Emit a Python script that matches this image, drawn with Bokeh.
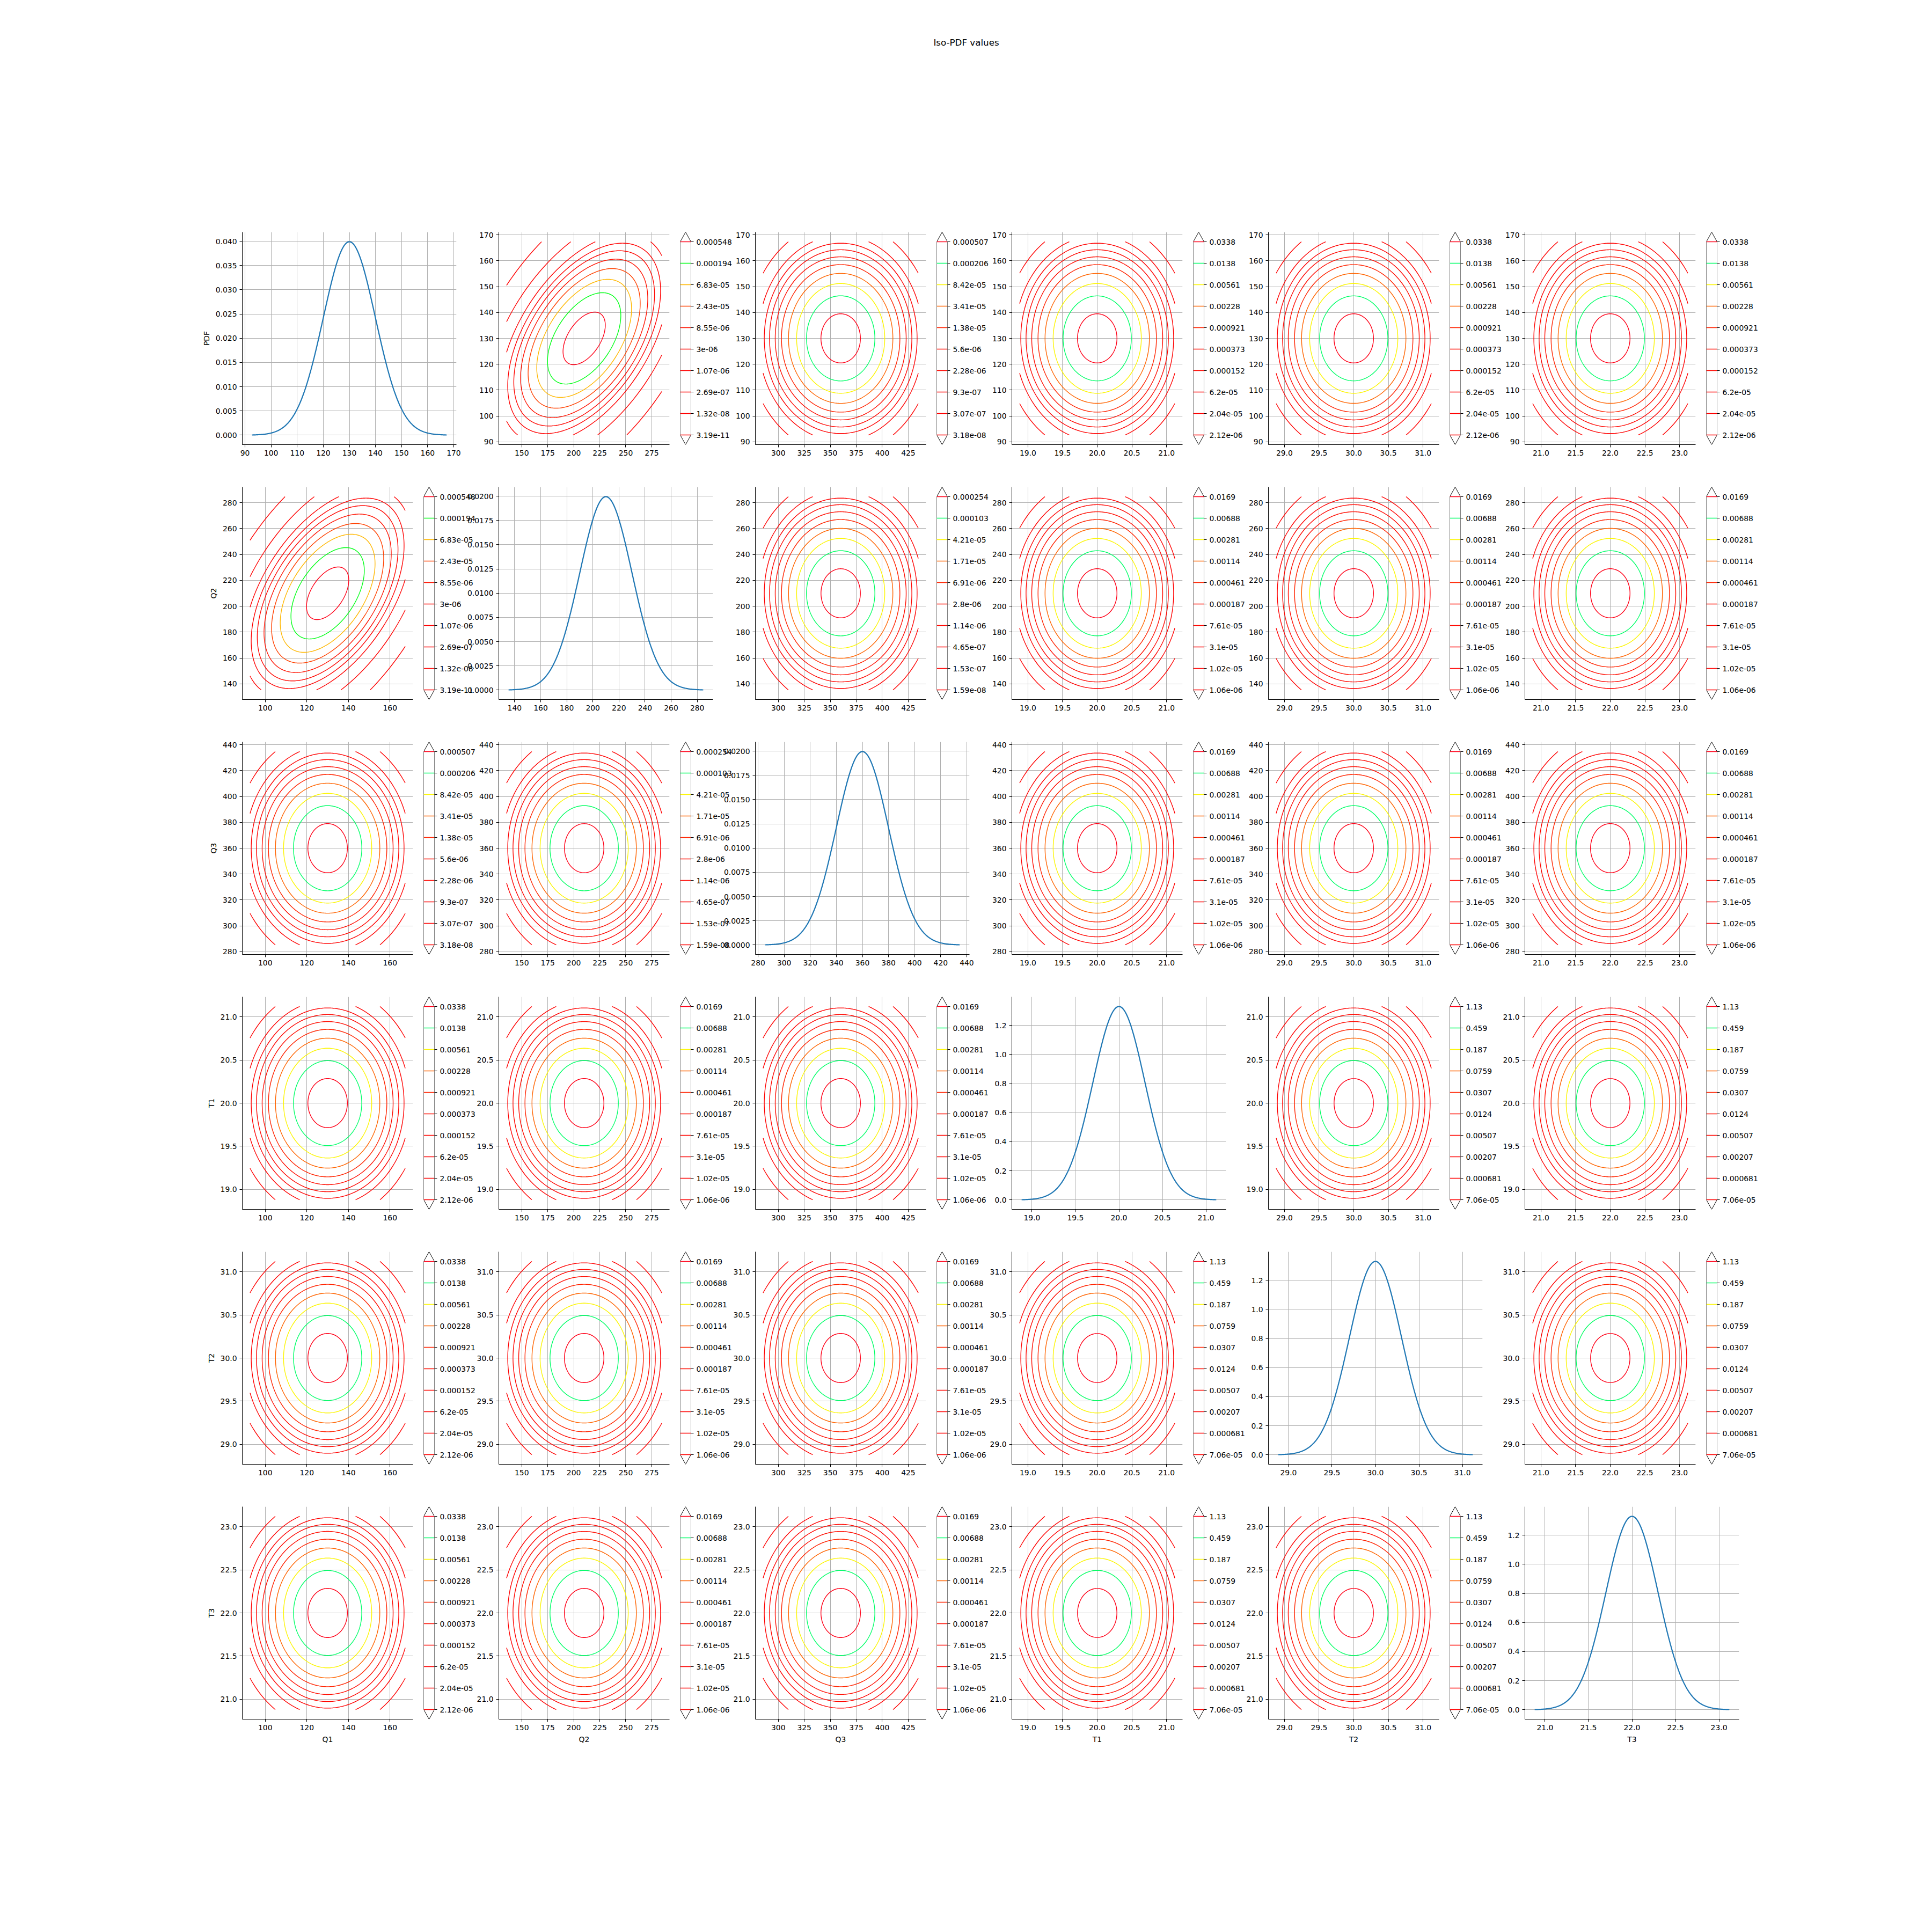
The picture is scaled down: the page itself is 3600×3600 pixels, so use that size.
import numpy as np
from bokeh.plotting import figure
from bokeh.models import Range1d, FixedTicker, LinearAxis, PrintfTickFormatter, Label
from bokeh.layouts import row, column
from bokeh.embed import file_html
from bokeh.resources import INLINE

# ---------------- data ----------------
TITLE = "Iso-PDF values"
names = ["Q1", "Q2", "Q3", "T1", "T2", "T3"]
means = [130.0, 210.0, 360.0, 20.0, 30.0, 22.0]
sigmas = [10.0, 20.0, 20.0, 0.3, 0.3, 0.3]
corr_Q1_Q2 = 0.5

levels_Q1_Q2 = [3.19e-11, 1.32e-08, 2.69e-07, 1.07e-06, 3e-06, 8.55e-06, 2.43e-05, 6.83e-05, 0.000194, 0.000548]
levels_Q1_Q3 = [3.18e-08, 3.07e-07, 9.3e-07, 2.28e-06, 5.6e-06, 1.38e-05, 3.41e-05, 8.42e-05, 0.000206, 0.000507]
levels_Q1_T = [2.12e-06, 2.04e-05, 6.2e-05, 0.000152, 0.000373, 0.000921, 0.00228, 0.00561, 0.0138, 0.0338]
levels_Q2_Q3 = [1.59e-08, 1.53e-07, 4.65e-07, 1.14e-06, 2.8e-06, 6.91e-06, 1.71e-05, 4.21e-05, 0.000103, 0.000254]
levels_Q23_T = [1.06e-06, 1.02e-05, 3.1e-05, 7.61e-05, 0.000187, 0.000461, 0.00114, 0.00281, 0.00688, 0.0169]
levels_T_T = [7.06e-05, 0.000681, 0.00207, 0.00507, 0.0124, 0.0307, 0.0759, 0.187, 0.459, 1.13]

contour_x_ticks = {
    "Q1": [100, 120, 140, 160],
    "Q2": [150, 175, 200, 225, 250, 275],
    "Q3": [300, 325, 350, 375, 400, 425],
    "T1": [19.0, 19.5, 20.0, 20.5, 21.0],
    "T2": [29.0, 29.5, 30.0, 30.5, 31.0],
    "T3": [21.0, 21.5, 22.0, 22.5, 23.0],
}
row_y_ticks = {
    "Q1": [90, 100, 110, 120, 130, 140, 150, 160, 170],
    "Q2": [140, 160, 180, 200, 220, 240, 260, 280],
    "Q3": [280, 300, 320, 340, 360, 380, 400, 420, 440],
    "T1": [19.0, 19.5, 20.0, 20.5, 21.0],
    "T2": [29.0, 29.5, 30.0, 30.5, 31.0],
    "T3": [21.0, 21.5, 22.0, 22.5, 23.0],
}
pdf_x_ticks = {
    "Q1": [90, 100, 110, 120, 130, 140, 150, 160, 170],
    "Q2": [140, 160, 180, 200, 220, 240, 260, 280],
    "Q3": [280, 300, 320, 340, 360, 380, 400, 420, 440],
    "T1": [19.0, 19.5, 20.0, 20.5, 21.0],
    "T2": [29.0, 29.5, 30.0, 30.5, 31.0],
    "T3": [21.0, 21.5, 22.0, 22.5, 23.0],
}
pdf_y_ticks = {
    "Q1": [0.000, 0.005, 0.010, 0.015, 0.020, 0.025, 0.030, 0.035, 0.040],
    "Q2": [0.0, 0.0025, 0.0050, 0.0075, 0.0100, 0.0125, 0.0150, 0.0175, 0.0200],
    "Q3": [0.0, 0.0025, 0.0050, 0.0075, 0.0100, 0.0125, 0.0150, 0.0175, 0.0200],
    "T1": [0.0, 0.2, 0.4, 0.6, 0.8, 1.0, 1.2],
    "T2": [0.0, 0.2, 0.4, 0.6, 0.8, 1.0, 1.2],
    "T3": [0.0, 0.2, 0.4, 0.6, 0.8, 1.0, 1.2],
}
value_fmt = {"Q1": "%d", "Q2": "%d", "Q3": "%d", "T1": "%.1f", "T2": "%.1f", "T3": "%.1f"}
pdf_fmt = {"Q1": "%.3f", "Q2": "%.4f", "Q3": "%.4f", "T1": "%.1f", "T2": "%.1f", "T3": "%.1f"}


def pair_levels(a, b):
    s = {a, b}
    if s == {"Q1", "Q2"}:
        return levels_Q1_Q2
    if s == {"Q1", "Q3"}:
        return levels_Q1_Q3
    if s == {"Q2", "Q3"}:
        return levels_Q2_Q3
    qs = [n for n in s if n.startswith("Q")]
    if len(qs) == 2:
        return levels_Q2_Q3
    if len(qs) == 1:
        return levels_Q1_T if qs[0] == "Q1" else levels_Q23_T
    return levels_T_T


def pair_corr(a, b):
    return corr_Q1_Q2 if {a, b} == {"Q1", "Q2"} else 0.0


# ---------------- styles / geometry ----------------
FONT = "DejaVu Sans"
TICK_FS = "13.9px"
GRID_SIG = 3.731
NGRID = 161
ROW_TOP0 = 432
ROW_PITCH = 475
FRAME_H = 396
COL_LEFT0 = 451
COL_PITCH = 478
CONTOUR_W = 318
PDF_W = 399
CBAR_GAP = 20
CBAR_W = 20
CBAR_LAB = 90
BORDER_L = 110
BORDER_T = 20
BORDER_B = 59
PDF_RB = 25

HSV_R = [(0.0, 1.0), (0.158730, 1.0), (0.174603, 0.96875), (0.333333, 0.03125), (0.349206, 0.0),
         (0.666667, 0.0), (0.682540, 0.0), (0.841270, 0.03125), (0.857143, 1.0), (1.0, 1.0)]
HSV_G = [(0.0, 0.0), (0.158730, 0.9375), (0.174603, 1.0), (0.507937, 1.0), (0.666667, 0.0625),
         (0.682540, 0.0), (1.0, 0.0)]
HSV_B = [(0.0, 0.0), (0.333333, 0.0), (0.349206, 0.0625), (0.507937, 1.0), (0.841270, 1.0),
         (0.857143, 0.9375), (1.0, 0.09375)]


def hsv_hex(t):
    idx = min(max(int(t * 256), 0), 255)
    x = idx / 255.0
    comps = []
    for seg in (HSV_R, HSV_G, HSV_B):
        xs, vs = zip(*seg)
        comps.append(int(round(float(np.interp(x, xs, vs)) * 255)))
    return "#%02x%02x%02x" % tuple(comps)


def level_colors(levels):
    lo, hi = min(levels), max(levels)
    return [hsv_hex((v - lo) / (hi - lo)) for v in levels]


def style_axis(ax):
    ax.axis_line_color = "black"
    ax.axis_line_width = 1
    ax.major_tick_line_color = "black"
    ax.major_tick_line_width = 1
    ax.major_tick_out = 5
    ax.major_tick_in = 0
    ax.minor_tick_line_color = None
    ax.major_label_text_font = FONT
    ax.major_label_text_font_size = TICK_FS
    ax.major_label_text_color = "black"
    ax.major_label_standoff = 5
    ax.axis_label_text_font = FONT
    ax.axis_label_text_font_size = TICK_FS
    ax.axis_label_text_font_style = "normal"
    ax.axis_label_text_color = "black"
    ax.axis_label_standoff = 6


def base_fig(width, height, xr, yr, rb, bb):
    p = figure(width=width, height=height, x_range=Range1d(*xr), y_range=Range1d(*yr),
               output_backend="svg", toolbar_location=None, tools="")
    p.min_border_left = BORDER_L
    p.min_border_right = rb
    p.min_border_top = BORDER_T
    p.min_border_bottom = bb
    p.border_fill_color = None
    p.background_fill_color = "white"
    p.outline_line_color = None
    for ax in p.xaxis + p.yaxis:
        style_axis(ax)
    p.grid.grid_line_color = "#b0b0b0"
    p.grid.grid_line_width = 1
    return p


def var_range(k):
    lo = means[k] - GRID_SIG * sigmas[k]
    hi = means[k] + GRID_SIG * sigmas[k]
    return lo, hi


def padded(lo, hi):
    pad = 0.05 * (hi - lo)
    return lo - pad, hi + pad


def make_pdf(k, H, bb):
    name = names[k]
    lo, hi = var_range(k)
    xs = np.linspace(lo, hi, 400)
    ys = np.exp(-0.5 * ((xs - means[k]) / sigmas[k]) ** 2) / (sigmas[k] * np.sqrt(2 * np.pi))
    p = base_fig(BORDER_L + PDF_W + PDF_RB, H, padded(lo, hi), padded(ys.min(), ys.max()), PDF_RB, bb)
    p.xaxis.ticker = FixedTicker(ticks=pdf_x_ticks[name])
    p.xaxis.formatter = PrintfTickFormatter(format=value_fmt[name])
    p.yaxis.ticker = FixedTicker(ticks=pdf_y_ticks[name])
    p.yaxis.formatter = PrintfTickFormatter(format=pdf_fmt[name])
    p.line(xs, ys, line_color="#1f77b4", line_width=2.2)
    return p


def make_contour(i, j, H, bb):
    xn, yn = names[j], names[i]
    lox, hix = var_range(j)
    loy, hiy = var_range(i)
    p = base_fig(BORDER_L + CONTOUR_W + CBAR_GAP, H, padded(lox, hix), padded(loy, hiy), CBAR_GAP, bb)
    p.xaxis.ticker = FixedTicker(ticks=contour_x_ticks[xn])
    p.xaxis.formatter = PrintfTickFormatter(format=value_fmt[xn])
    p.yaxis.ticker = FixedTicker(ticks=row_y_ticks[yn])
    p.yaxis.formatter = PrintfTickFormatter(format=value_fmt[yn])
    xg = np.linspace(lox, hix, NGRID)
    yg = np.linspace(loy, hiy, NGRID)
    X, Y = np.meshgrid(xg, yg)
    u = (X - means[j]) / sigmas[j]
    v = (Y - means[i]) / sigmas[i]
    rho = pair_corr(xn, yn)
    Z = np.exp(-(u * u - 2 * rho * u * v + v * v) / (2 * (1 - rho ** 2))) / (
        2 * np.pi * sigmas[i] * sigmas[j] * np.sqrt(1 - rho ** 2))
    levels = pair_levels(xn, yn)
    p.contour(xg, yg, Z, levels, line_color=level_colors(levels), line_width=1.4)
    return p, levels


def make_cbar(levels, H, bb):
    n = len(levels)
    ext = 0.05 * (n - 1)
    cb = figure(width=CBAR_W + CBAR_LAB, height=H, x_range=Range1d(0, 1),
                y_range=Range1d(-ext, n - 1 + ext), x_axis_type=None, y_axis_type=None,
                output_backend="svg", toolbar_location=None, tools="")
    cb.min_border_left = 0
    cb.min_border_right = CBAR_LAB
    cb.min_border_top = BORDER_T
    cb.min_border_bottom = bb
    cb.border_fill_color = None
    cb.background_fill_color = None
    cb.outline_line_color = None
    idx = list(range(n))
    cb.patch(x=[0, 0.5, 1, 1, 0.5, 0], y=[0, -ext, 0, n - 1, n - 1 + ext, n - 1],
             fill_color="white", line_color="black", line_width=1)
    cb.segment(x0=[0] * n, y0=idx, x1=[1] * n, y1=idx, line_color=level_colors(levels), line_width=1.6)
    ax = LinearAxis(ticker=FixedTicker(ticks=idx),
                    major_label_overrides={k: "%.3g" % levels[k] for k in idx})
    style_axis(ax)
    ax.axis_line_color = None
    cb.add_layout(ax, "right")
    return cb


# ---------------- assemble ----------------
header_h = ROW_TOP0 - BORDER_T
header = figure(width=3600, height=header_h, x_range=Range1d(0, 3600), y_range=Range1d(0, header_h),
                x_axis_type=None, y_axis_type=None, output_backend="svg", toolbar_location=None, tools="")
header.min_border = 0
header.outline_line_color = None
header.border_fill_color = None
header.background_fill_color = None
header.add_layout(Label(x=1800, y=header_h - 78, text=TITLE, text_align="center", text_baseline="middle",
                        text_font=FONT, text_font_size="16.7px", text_color="black"))

rows = []
for i in range(6):
    bb = BORDER_B if i < 5 else BORDER_B + 30
    H = BORDER_T + FRAME_H + bb
    children = []
    cursor = 0
    for j in range(6):
        X = COL_LEFT0 + COL_PITCH * j
        if i == j:
            p = make_pdf(i, H, bb)
        else:
            p, levels = make_contour(i, j, H, bb)
        if j == 0:
            p.yaxis.axis_label = "PDF" if i == 0 else names[i]
        if i == 5:
            p.xaxis.axis_label = names[j]
        left = X - BORDER_L
        p.margin = (0, 0, 0, left - cursor)
        cursor = left + p.width
        children.append(p)
        if i != j:
            cb = make_cbar(levels, H, bb)
            left_cb = X + CONTOUR_W + CBAR_GAP
            cb.margin = (0, 0, 0, left_cb - cursor)
            cursor = left_cb + cb.width
            children.append(cb)
    rows.append(row(children, spacing=0))

layout = column([header] + rows, spacing=0)

open("out.html", "w").write(file_html(layout, INLINE, title=TITLE))
